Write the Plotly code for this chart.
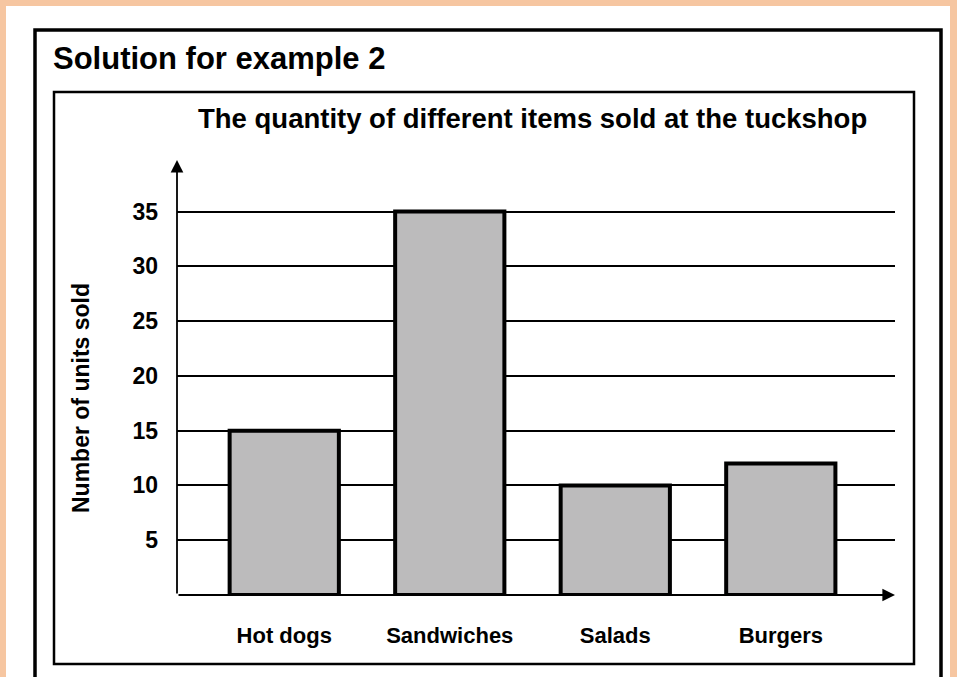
import plotly.graph_objects as go

# data
items = ["Hot dogs", "Sandwiches", "Salads", "Burgers"]
units_sold = [15, 35, 10, 12]
y_ticks = [5, 10, 15, 20, 25, 30, 35]

W, H = 957, 677
FONT = "Liberation Sans, Arial, sans-serif"

fig = go.Figure()
fig.add_trace(go.Bar(
    x=list(range(len(items))),
    y=units_sold,
    width=0.66,
    marker=dict(color="#bcbbbc", line=dict(color="black", width=4)),
    hoverinfo="x+y",
))

x_lo, x_hi = -0.648, 3.69
y_top = 39.7

fig.update_layout(
    width=W, height=H,
    margin=dict(l=0, r=0, t=0, b=0),
    paper_bgcolor="#f6c6a1",
    plot_bgcolor="rgba(0,0,0,0)",
    showlegend=False,
    font=dict(family=FONT, color="black"),
    xaxis=dict(
        domain=[177 / W, 895 / W],
        range=[x_lo, x_hi],
        tickvals=list(range(len(items))),
        ticktext=items,
        tickfont=dict(size=22, weight="bold"),
        ticklabelstandoff=25,
        showgrid=False, zeroline=False, showline=False,
        fixedrange=True,
    ),
    yaxis=dict(
        domain=[(H - 595) / H, (H - 160) / H],
        range=[0, y_top],
        tickvals=y_ticks,
        tickfont=dict(size=23, weight="bold"),
        ticklabelstandoff=18,
        showgrid=True, gridcolor="black", gridwidth=1.6,
        zeroline=False, showline=False,
        fixedrange=True,
    ),
)

# page frames
fig.add_shape(type="rect", xref="paper", yref="paper", layer="below",
              x0=6 / W, x1=950 / W, y0=-0.01, y1=(H - 6) / H,
              fillcolor="white", line=dict(width=0))
fig.add_shape(type="rect", xref="paper", yref="paper", layer="below",
              x0=35 / W, x1=941 / W, y0=-0.02, y1=(H - 30) / H,
              line=dict(color="black", width=3.5))
fig.add_shape(type="rect", xref="paper", yref="paper", layer="below",
              x0=54 / W, x1=914 / W, y0=(H - 664) / H, y1=(H - 92) / H,
              line=dict(color="black", width=2.5))

# axes with arrowheads
fig.add_annotation(x=x_hi, y=0, ax=x_lo, ay=0, xref="x", yref="y", axref="x", ayref="y",
                   text="", showarrow=True, arrowhead=2, arrowsize=1.4, arrowwidth=1.8,
                   arrowcolor="black")
fig.add_annotation(x=x_lo, y=y_top, ax=x_lo, ay=0, xref="x", yref="y", axref="x", ayref="y",
                   text="", showarrow=True, arrowhead=2, arrowsize=1.4, arrowwidth=1.8,
                   arrowcolor="black")

# titles
fig.add_annotation(text="Solution for example 2", xref="paper", yref="paper",
                   x=51 / W, y=(H - 59) / H, xanchor="left", yanchor="middle",
                   showarrow=False, font=dict(size=31, weight="bold"))
fig.add_annotation(text="The quantity of different items sold at the tuckshop",
                   xref="paper", yref="paper", x=532 / W, y=(H - 119) / H,
                   xanchor="center", yanchor="middle", showarrow=False,
                   font=dict(size=27.5, weight="bold"))
fig.add_annotation(text="Number of units sold", xref="paper", yref="paper",
                   x=81 / W, y=(H - 398) / H, textangle=-90,
                   xanchor="center", yanchor="middle", showarrow=False,
                   font=dict(size=23, weight="bold"))

fig.write_html("out.html", config={"displayModeBar": False},
               post_script="document.body.style.margin='0';")
